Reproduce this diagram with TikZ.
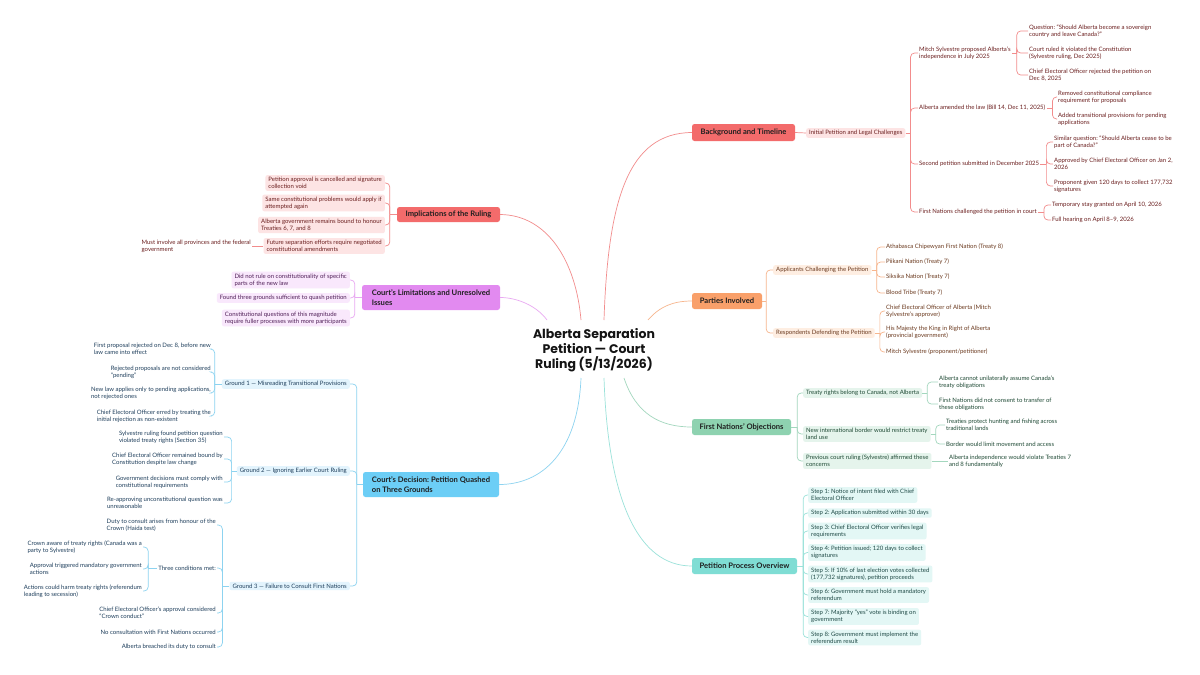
\documentclass[tikz,border=0pt]{standalone}
\usepackage{fontspec}
\setmainfont{Lato}
\newfontfamily\titlefont{Poppins}
\usetikzlibrary{calc}
\frenchspacing
\definecolor{rF}{HTML}{F36B6B}\definecolor{rL}{HTML}{F28C8C}\definecolor{rS}{HTML}{FDE4E4}\definecolor{rT}{HTML}{6B1F1F}
\definecolor{oF}{HTML}{F9A06A}\definecolor{oL}{HTML}{F7B68E}\definecolor{oS}{HTML}{FEEEE2}\definecolor{oT}{HTML}{6B3A1F}
\definecolor{gF}{HTML}{8ED2B0}\definecolor{gL}{HTML}{A3D7BE}\definecolor{gS}{HTML}{E5F4EC}\definecolor{gT}{HTML}{1F4A35}
\definecolor{tF}{HTML}{7FDDD4}\definecolor{tL}{HTML}{9BE2DA}\definecolor{tS}{HTML}{E3F7F5}\definecolor{tT}{HTML}{1F4A46}
\definecolor{vF}{HTML}{E28AF0}\definecolor{vL}{HTML}{E9A9F2}\definecolor{vS}{HTML}{F9E8FC}\definecolor{vT}{HTML}{4F1F57}
\definecolor{bF}{HTML}{6CCEF6}\definecolor{bL}{HTML}{8DD3F0}\definecolor{bS}{HTML}{E3F4FD}\definecolor{bT}{HTML}{1F3F5C}
\begin{document}
\begin{tikzpicture}[x=1pt,y=-1pt,
  leaf/.style={font=\fontsize{6.0}{7.2}\selectfont, inner sep=1pt},
  leafR/.style={leaf, anchor=west, align=left},
  leafL/.style={leaf, anchor=east, align=left},
  subR/.style={leafR, rounded corners=2pt, inner xsep=3pt, inner ysep=2pt},
  subL/.style={leafL, rounded corners=2pt, inner xsep=3pt, inner ysep=2pt},
  mainbox/.style={rounded corners=2.5pt, font=\bfseries\fontsize{7.6}{9.5}\selectfont, text=black!88, inner sep=2pt},
  titlenode/.style={font=\titlefont\bfseries\fontsize{12.5}{15}\selectfont, align=center, text=black!92},
  conn/.style={line width=0.7pt, rounded corners=4pt},
  cr/.style={conn, draw=rL}, co/.style={conn, draw=oL}, cg/.style={conn, draw=gL},
  ct/.style={conn, draw=tL}, cv/.style={conn, draw=vL}, cb/.style={conn, draw=bL}
]
\useasboundingbox[fill=white] (0,0) rectangle (1200,675);

% centre
\node[titlenode] (C) at (594,350) {Alberta Separation\\Petition — Court\\Ruling (5/13/2026)};
\coordinate (cNW) at ($(C.center)+(-47,-30)$);
\coordinate (cNL) at ($(C.center)+(-13,-30)$);
\coordinate (cNR) at ($(C.center)+(10,-30)$);
\coordinate (cNE) at ($(C.center)+(54,-30)$);
\coordinate (cSL) at ($(C.center)+(-13,28)$);
\coordinate (cSR) at ($(C.center)+(10,28)$);
\coordinate (cSE) at ($(C.center)+(30,28)$);

% main branches
\node[mainbox, fill=rF, minimum width=103, minimum height=17] (BT) at (743.5,132.5) {Background and Timeline};
\node[mainbox, fill=oF, minimum width=70, minimum height=16] (PI) at (727,301) {Parties Involved};
\node[mainbox, fill=gF, minimum width=99, minimum height=16] (FN) at (741.5,427) {First Nations’ Objections};
\node[mainbox, fill=tF, minimum width=105, minimum height=16] (PP) at (744.5,566) {Petition Process Overview};
\node[mainbox, fill=rF, minimum width=103, minimum height=15] (IM) at (448.5,214.5) {Implications of the Ruling};
\node[mainbox, fill=vF, minimum width=138, minimum height=25, align=left] (CL) at (431,297.5) {Court’s Limitations and Unresolved\\Issues};
\node[mainbox, fill=bF, minimum width=136, minimum height=25, align=left] (CD) at (431,484.5) {Court’s Decision: Petition Quashed\\on Three Grounds};

\draw[cr] (cNR) .. controls (608,200) and (628,133) .. (BT.west);
\draw[cr] (cNL) .. controls (576,262) and (548,215) .. (IM.east);
\draw[cv] (cNW) .. controls (536,305) and (516,297.5) .. (CL.east);
\draw[co] (cNE) .. controls (660,306) and (674,301) .. (PI.west);
\draw[cb] (cSL) .. controls (578,452) and (542,484.5) .. (CD.east);
\draw[cg] (cSE) .. controls (636,414) and (660,427) .. (FN.west);
\draw[ct] (cSR) .. controls (608,500) and (638,566) .. (PP.west);

% ---------- Background and Timeline
\node[subR, fill=rS, text=rT] (IP) at (806,133) {Initial Petition and Legal Challenges};
\draw[cr] (BT.east) -- (IP.west);
\node[leafR, text=rT] (M) at (918,53) {Mitch Sylvestre proposed Alberta’s\\independence in July 2025};
\node[leafR, text=rT] (AA) at (918,108) {Alberta amended the law (Bill 14, Dec 11, 2025)};
\node[leafR, text=rT] (SP) at (918,164) {Second petition submitted in December 2025};
\node[leafR, text=rT] (FC) at (918,212) {First Nations challenged the petition in court};
\draw[cr] (IP.east) -- ++(5,0) coordinate (ipS);
\foreach \c in {M,AA,SP,FC} \draw[cr] (ipS) |- (\c.west);

\node[leafR, text=rT] (M1) at (1028,31) {Question: “Should Alberta become a sovereign\\country and leave Canada?”};
\node[leafR, text=rT] (M2) at (1028,53) {Court ruled it violated the Constitution\\(Sylvestre ruling, Dec 2025)};
\node[leafR, text=rT] (M3) at (1028,75) {Chief Electoral Officer rejected the petition on\\Dec 8, 2025};
\draw[cr] (M.east) -- ++(5,0) coordinate (mS);
\foreach \c in {M1,M2,M3} \draw[cr] (mS) |- (\c.west);

\node[leafR, text=rT] (A1) at (1057,97) {Removed constitutional compliance\\requirement for proposals};
\node[leafR, text=rT] (A2) at (1057,119) {Added transitional provisions for pending\\applications};
\draw[cr] (AA.east) -- ++(6,0) coordinate (aS);
\foreach \c in {A1,A2} \draw[cr] (aS) |- (\c.west);

\node[leafR, text=rT] (Q1) at (1053,142) {Similar question: “Should Alberta cease to be\\part of Canada?”};
\node[leafR, text=rT] (Q2) at (1053,164) {Approved by Chief Electoral Officer on Jan 2,\\2026};
\node[leafR, text=rT] (Q3) at (1053,186) {Proponent given 120 days to collect 177,732\\signatures};
\draw[cr] (SP.east) -- ++(6,0) coordinate (sS);
\foreach \c in {Q1,Q2,Q3} \draw[cr] (sS) |- (\c.west);

\node[leafR, text=rT] (F1) at (1051,205) {Temporary stay granted on April 10, 2026};
\node[leafR, text=rT] (F2) at (1051,220) {Full hearing on April 8–9, 2026};
\draw[cr] (FC.east) -- ++(6,0) coordinate (fS);
\foreach \c in {F1,F2} \draw[cr] (fS) |- (\c.west);

% ---------- Parties
\node[subR, fill=oS, text=oT] (AP) at (773,270) {Applicants Challenging the Petition};
\node[subR, fill=oS, text=oT] (RD) at (773,333) {Respondents Defending the Petition};
\draw[co] (PI.east) -- ++(4,0) coordinate (pS);
\foreach \c in {AP,RD} \draw[co] (pS) |- (\c.west);
\node[leafR, text=oT] (P1) at (885,247) {Athabasca Chipewyan First Nation (Treaty 8)};
\node[leafR, text=oT] (P2) at (885,262) {Piikani Nation (Treaty 7)};
\node[leafR, text=oT] (P3) at (885,277) {Siksika Nation (Treaty 7)};
\node[leafR, text=oT] (P4) at (885,293) {Blood Tribe (Treaty 7)};
\draw[co] (AP.east) -- ++(5,0) coordinate (apS);
\foreach \c in {P1,P2,P3,P4} \draw[co] (apS) |- (\c.west);
\node[leafR, text=oT] (R1) at (885,311) {Chief Electoral Officer of Alberta (Mitch\\Sylvestre’s approver)};
\node[leafR, text=oT] (R2) at (885,332) {His Majesty the King in Right of Alberta\\(provincial government)};
\node[leafR, text=oT] (R3) at (885,352) {Mitch Sylvestre (proponent/petitioner)};
\draw[co] (RD.east) -- ++(5,0) coordinate (rdS);
\foreach \c in {R1,R2,R3} \draw[co] (rdS) |- (\c.west);

% ---------- First Nations' Objections
\node[subR, fill=gS, text=gT] (TR) at (803,393) {Treaty rights belong to Canada, not Alberta};
\node[subR, fill=gS, text=gT] (NB) at (803,434) {New international border would restrict treaty\\land use};
\node[subR, fill=gS, text=gT] (PC) at (803,461) {Previous court ruling (Sylvestre) affirmed these\\concerns};
\draw[cg] (FN.east) -- ++(6,0) coordinate (fnS);
\foreach \c in {TR,NB,PC} \draw[cg] (fnS) |- (\c.west);
\node[leafR, text=gT] (T1) at (938,382) {Alberta cannot unilaterally assume Canada’s\\treaty obligations};
\node[leafR, text=gT] (T2) at (938,404) {First Nations did not consent to transfer of\\these obligations};
\draw[cg] (TR.east) -- ++(5,0) coordinate (trS);
\foreach \c in {T1,T2} \draw[cg] (trS) |- (\c.west);
\node[leafR, text=gT] (N1) at (945,425) {Treaties protect hunting and fishing across\\traditional lands};
\node[leafR, text=gT] (N2) at (945,444) {Border would limit movement and access};
\draw[cg] (NB.east) -- ++(5,0) coordinate (nbS);
\foreach \c in {N1,N2} \draw[cg] (nbS) |- (\c.west);
\node[leafR, text=gT] (PC1) at (948,461) {Alberta independence would violate Treaties 7\\and 8 fundamentally};
\draw[cg] (PC.east) -- (PC1.west);

% ---------- Petition Process
\node[subR, fill=tS, text=tT] (St1) at (808,495) {Step 1: Notice of intent filed with Chief\\Electoral Officer};
\node[subR, fill=tS, text=tT] (St2) at (808,513) {Step 2: Application submitted within 30 days};
\node[subR, fill=tS, text=tT] (St3) at (808,531) {Step 3: Chief Electoral Officer verifies legal\\requirements};
\node[subR, fill=tS, text=tT] (St4) at (808,552.5) {Step 4: Petition issued; 120 days to collect\\signatures};
\node[subR, fill=tS, text=tT] (St5) at (808,574) {Step 5: If 10\% of last election votes collected\\(177,732 signatures), petition proceeds};
\node[subR, fill=tS, text=tT] (St6) at (808,595) {Step 6: Government must hold a mandatory\\referendum};
\node[subR, fill=tS, text=tT] (St7) at (808,616.5) {Step 7: Majority “yes” vote is binding on\\government};
\node[subR, fill=tS, text=tT] (St8) at (808,637.5) {Step 8: Government must implement the\\referendum result};
\draw[ct] (PP.east) -- ++(6,0) coordinate (ppS);
\foreach \c in {St1,St2,St3,St4,St5,St6,St7,St8} \draw[ct] (ppS) |- (\c.west);

% ---------- Implications
\node[subL, fill=rS, text=rT] (I1) at (385,183) {Petition approval is cancelled and signature\\collection void};
\node[subL, fill=rS, text=rT] (I2) at (385,203) {Same constitutional problems would apply if\\attempted again};
\node[subL, fill=rS, text=rT] (I3) at (385,225) {Alberta government remains bound to honour\\Treaties 6, 7, and 8};
\node[subL, fill=rS, text=rT] (I4) at (385,246) {Future separation efforts require negotiated\\constitutional amendments};
\draw[cr] (IM.west) -- ++(-7,0) coordinate (imS);
\foreach \c in {I1,I2,I3,I4} \draw[cr] (imS) |- (\c.east);
\node[leafL, text=rT] (I4a) at (252,246) {Must involve all provinces and the federal\\government};
\draw[cr] (I4.west) -- (I4a.east);

% ---------- Limitations
\node[subL, fill=vS, text=vT] (L1) at (350,280) {Did not rule on constitutionality of specific\\parts of the new law};
\node[subL, fill=vS, text=vT] (L2) at (350,298) {Found three grounds sufficient to quash petition};
\node[subL, fill=vS, text=vT] (L3) at (350,318) {Constitutional questions of this magnitude\\require fuller processes with more participants};
\draw[cv] (CL.west) -- ++(-7,0) coordinate (clS);
\foreach \c in {L1,L2,L3} \draw[cv] (clS) |- (\c.east);

% ---------- Decision
\node[subL, fill=bS, text=bT] (G1) at (350,384) {Ground 1 — Misreading Transitional Provisions};
\node[subL, fill=bS, text=bT] (G2) at (350,471) {Ground 2 — Ignoring Earlier Court Ruling};
\node[subL, fill=bS, text=bT] (G3) at (350,586) {Ground 3 — Failure to Consult First Nations};
\draw[cb] (CD.west) -- ++(-6,0) coordinate (cdS);
\foreach \c in {G1,G2,G3} \draw[cb] (cdS) |- (\c.east);

\node[leafL, text=bT] (g11) at (212,349) {First proposal rejected on Dec 8, before new\\law came into effect};
\node[leafL, text=bT] (g12) at (212,372) {Rejected proposals are not considered\\“pending”};
\node[leafL, text=bT] (g13) at (212,393) {New law applies only to pending applications,\\not rejected ones};
\node[leafL, text=bT] (g14) at (212,416) {Chief Electoral Officer erred by treating the\\initial rejection as non-existent};
\draw[cb] (G1.west) -- ++(-7,0) coordinate (g1S);
\foreach \c in {g11,g12,g13,g14} \draw[cb] (g1S) |- (\c.east);

\node[leafL, text=bT] (g21) at (224,437) {Sylvestre ruling found petition question\\violated treaty rights (Section 35)};
\node[leafL, text=bT] (g22) at (224,459) {Chief Electoral Officer remained bound by\\Constitution despite law change};
\node[leafL, text=bT] (g23) at (224,482) {Government decisions must comply with\\constitutional requirements};
\node[leafL, text=bT] (g24) at (224,503) {Re-approving unconstitutional question was\\unreasonable};
\draw[cb] (G2.west) -- ++(-5,0) coordinate (g2S);
\foreach \c in {g21,g22,g23,g24} \draw[cb] (g2S) |- (\c.east);

\node[leafL, text=bT] (g31) at (217,525) {Duty to consult arises from honour of the\\Crown (Haida test)};
\node[leafL, text=bT] (TC) at (217,568) {Three conditions met:};
\node[leafL, text=bT] (g33) at (217,613) {Chief Electoral Officer’s approval considered\\“Crown conduct”};
\node[leafL, text=bT] (g34) at (217,632) {No consultation with First Nations occurred};
\node[leafL, text=bT] (g35) at (217,647) {Alberta breached its duty to consult};
\draw[cb] (G3.west) -- ++(-7,0) coordinate (g3S);
\foreach \c in {g31,TC,g33,g34,g35} \draw[cb] (g3S) |- (\c.east);

\node[leafL, text=bT] (tc1) at (143,547) {Crown aware of treaty rights (Canada was a\\party to Sylvestre)};
\node[leafL, text=bT] (tc2) at (143,569) {Approval triggered mandatory government\\actions};
\node[leafL, text=bT] (tc3) at (143,591) {Actions could harm treaty rights (referendum\\leading to secession)};
\draw[cb] (TC.west) -- ++(-9,0) coordinate (tcS);
\foreach \c in {tc1,tc2,tc3} \draw[cb] (tcS) |- (\c.east);
\end{tikzpicture}
\end{document}
